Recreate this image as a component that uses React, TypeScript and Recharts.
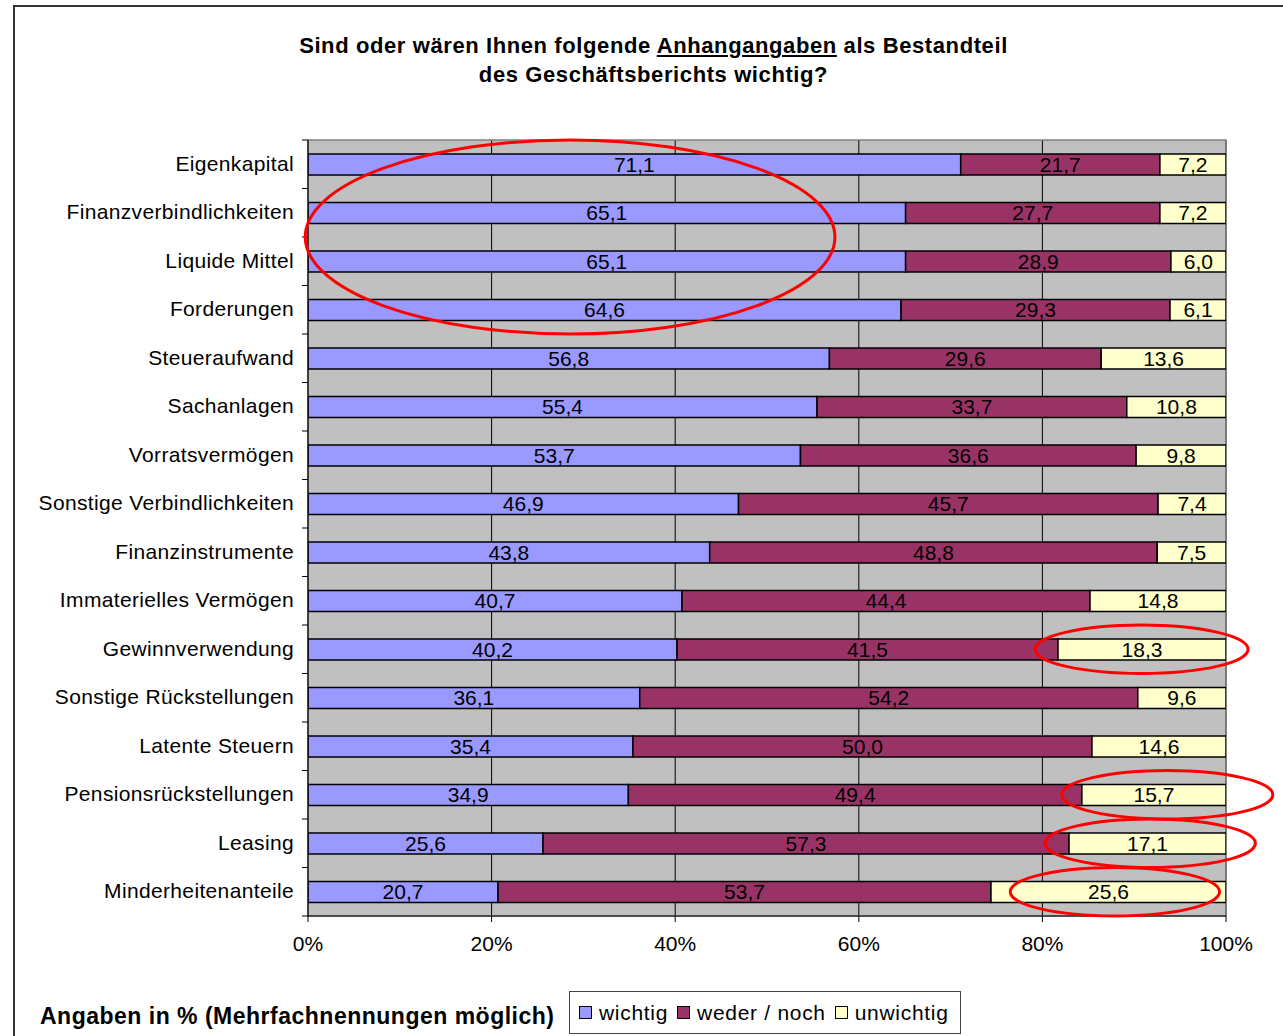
import React from "react";
import {
  BarChart,
  Bar,
  XAxis,
  YAxis,
  CartesianGrid,
  LabelList,
  ReferenceArea,
} from "recharts";

const categories = [
  "Eigenkapital",
  "Finanzverbindlichkeiten",
  "Liquide Mittel",
  "Forderungen",
  "Steueraufwand",
  "Sachanlagen",
  "Vorratsvermögen",
  "Sonstige Verbindlichkeiten",
  "Finanzinstrumente",
  "Immaterielles Vermögen",
  "Gewinnverwendung",
  "Sonstige Rückstellungen",
  "Latente Steuern",
  "Pensionsrückstellungen",
  "Leasing",
  "Minderheitenanteile",
];

const wichtig = [71.1, 65.1, 65.1, 64.6, 56.8, 55.4, 53.7, 46.9, 43.8, 40.7, 40.2, 36.1, 35.4, 34.9, 25.6, 20.7];
const wederNoch = [21.7, 27.7, 28.9, 29.3, 29.6, 33.7, 36.6, 45.7, 48.8, 44.4, 41.5, 54.2, 50.0, 49.4, 57.3, 53.7];
const unwichtig = [7.2, 7.2, 6.0, 6.1, 13.6, 10.8, 9.8, 7.4, 7.5, 14.8, 18.3, 9.6, 14.6, 15.7, 17.1, 25.6];

const xTicks = [0, 0.2, 0.4, 0.6, 0.8, 1];

const series = [
  { key: "wichtig", name: "wichtig", color: "#9999ff" },
  { key: "wederNoch", name: "weder / noch", color: "#993366" },
  { key: "unwichtig", name: "unwichtig", color: "#ffffcc" },
];

// red hand-drawn ellipses (category range, share range)
const highlights = [
  { from: "Eigenkapital", to: "Forderungen", x1: -0.003, x2: 0.574 },
  { from: "Gewinnverwendung", to: "Gewinnverwendung", x1: 0.792, x2: 1.024 },
  { from: "Pensionsrückstellungen", to: "Pensionsrückstellungen", x1: 0.821, x2: 1.051 },
  { from: "Leasing", to: "Leasing", x1: 0.803, x2: 1.032 },
  { from: "Minderheitenanteile", to: "Minderheitenanteile", x1: 0.765, x2: 0.993 },
];

const data = categories.map((name, i) => ({
  name,
  wichtig: wichtig[i],
  wederNoch: wederNoch[i],
  unwichtig: unwichtig[i],
}));

const FONT = "'Liberation Sans', Arial, sans-serif";
const W = 1283;
const H = 1036;
const X_HEIGHT = 50;
const MARGIN = { top: 140, right: 57, bottom: 70, left: 8 };
const Y_WIDTH = 300;
const PLOT_LEFT = MARGIN.left + Y_WIDTH;
const BAND = (H - MARGIN.top - MARGIN.bottom - X_HEIGHT) / categories.length;

const fmt = (v: any) => Number(v).toFixed(1).replace(".", ",");

function YTick(props: any) {
  const { x, y, payload, index } = props;
  return (
    <g>
      <text
        x={x}
        y={y - 1}
        textAnchor="end"
        dominantBaseline="central"
        fontSize={21}
        letterSpacing={0.35}
        fill="#000"
        fontFamily={FONT}
      >
        {payload.value}
      </text>
      <line x1={PLOT_LEFT - 6} x2={PLOT_LEFT} y1={y - BAND / 2} y2={y - BAND / 2} stroke="#000" />
      {index === categories.length - 1 && (
        <line x1={PLOT_LEFT - 6} x2={PLOT_LEFT} y1={y + BAND / 2} y2={y + BAND / 2} stroke="#000" />
      )}
    </g>
  );
}

function Ellipse(props: any) {
  const { x, y, width, height } = props;
  return (
    <ellipse
      cx={x + width / 2}
      cy={y + height / 2}
      rx={Math.abs(width) / 2}
      ry={Math.abs(height) / 2}
      fill="none"
      stroke="#ff0000"
      strokeWidth={3}
    />
  );
}

export default function App() {
  return (
    <div
      style={{
        position: "absolute",
        left: 0,
        top: 0,
        width: W,
        height: H,
        overflow: "hidden",
        background: "#fff",
        fontFamily: FONT,
      }}
    >
      <div
        style={{
          position: "absolute",
          left: 13,
          top: 5,
          width: W,
          height: H,
          borderLeft: "2px solid #333",
          borderTop: "2px solid #333",
        }}
      />
      <div
        style={{
          position: "absolute",
          left: 0,
          top: 31,
          width: 1307,
          textAlign: "center",
          fontWeight: "bold",
          fontSize: 22,
          letterSpacing: 0.6,
          lineHeight: "29px",
          color: "#000",
        }}
      >
        Sind oder wären Ihnen folgende <span style={{ textDecoration: "underline" }}>Anhangangaben</span> als Bestandteil
        <br />
        des Geschäftsberichts wichtig?
      </div>
      <div
        style={{
          position: "absolute",
          left: 40,
          top: 1003,
          fontWeight: "bold",
          fontSize: 23,
          letterSpacing: 0.5,
          color: "#000",
          whiteSpace: "nowrap",
        }}
      >
        Angaben in % (Mehrfachnennungen möglich)
      </div>
      <div
        style={{
          position: "absolute",
          left: 569,
          top: 991,
          width: 392,
          height: 43,
          boxSizing: "border-box",
          border: "1px solid #444",
          display: "flex",
          alignItems: "center",
          paddingLeft: 9,
          fontSize: 21,
          letterSpacing: 0.7,
          color: "#000",
          background: "#fff",
        }}
      >
        {series.map((s) => (
          <span key={s.key} style={{ display: "flex", alignItems: "center", marginRight: 9 }}>
            <span
              style={{
                display: "inline-block",
                width: 11,
                height: 11,
                background: s.color,
                border: "1.5px solid #000",
                marginRight: 7,
              }}
            />
            {s.name}
          </span>
        ))}
      </div>
      <div style={{ position: "absolute", left: 0, top: 0 }}>
        <BarChart width={W} height={H} data={data} layout="vertical" stackOffset="expand" margin={MARGIN}>
          <CartesianGrid horizontal={false} stroke="#000" fill="#c0c0c0" />
          <ReferenceArea x1={0} x2={1} fill="none" stroke="#808080" strokeWidth={1.5} ifOverflow="visible" />
          <XAxis
            type="number"
            domain={[0, 1]}
            ticks={xTicks}
            tickFormatter={(v) => `${Math.round(v * 100)}%`}
            tick={{ fill: "#000", fontSize: 21, fontFamily: FONT }}
            tickSize={6}
            tickMargin={14}
            height={X_HEIGHT}
            stroke="#000"
            allowDataOverflow
          />
          <YAxis
            type="category"
            dataKey="name"
            width={Y_WIDTH}
            tick={<YTick />}
            tickLine={false}
            tickSize={6}
            tickMargin={8}
            stroke="#000"
            interval={0}
          />
          {series.map((s) => (
            <Bar
              key={s.key}
              dataKey={s.key}
              name={s.name}
              stackId="a"
              fill={s.color}
              stroke="#000"
              strokeWidth={1.5}
              barSize={21}
              isAnimationActive={false}
            >
              <LabelList
                position="center"
                valueAccessor={(e: any) => e.payload[s.key]}
                formatter={fmt}
                fill="#000"
                fontSize={21}
                fontFamily={FONT}
              />
            </Bar>
          ))}
        </BarChart>
      </div>
      {/* overlay chart with the same scales, only for the red ellipses */}
      <div style={{ position: "absolute", left: 0, top: 0, pointerEvents: "none" }}>
        <BarChart
          width={W}
          height={H}
          data={data}
          layout="vertical"
          margin={{ top: MARGIN.top, right: MARGIN.right, bottom: MARGIN.bottom + X_HEIGHT, left: PLOT_LEFT }}
        >
          <XAxis type="number" domain={[0, 1]} hide allowDataOverflow />
          <YAxis type="category" dataKey="name" hide />
          {highlights.map((h, i) => (
            <ReferenceArea
              key={i}
              x1={h.x1}
              x2={h.x2}
              y1={h.from}
              y2={h.to}
              ifOverflow="visible"
              shape={<Ellipse />}
            />
          ))}
        </BarChart>
      </div>
    </div>
  );
}
